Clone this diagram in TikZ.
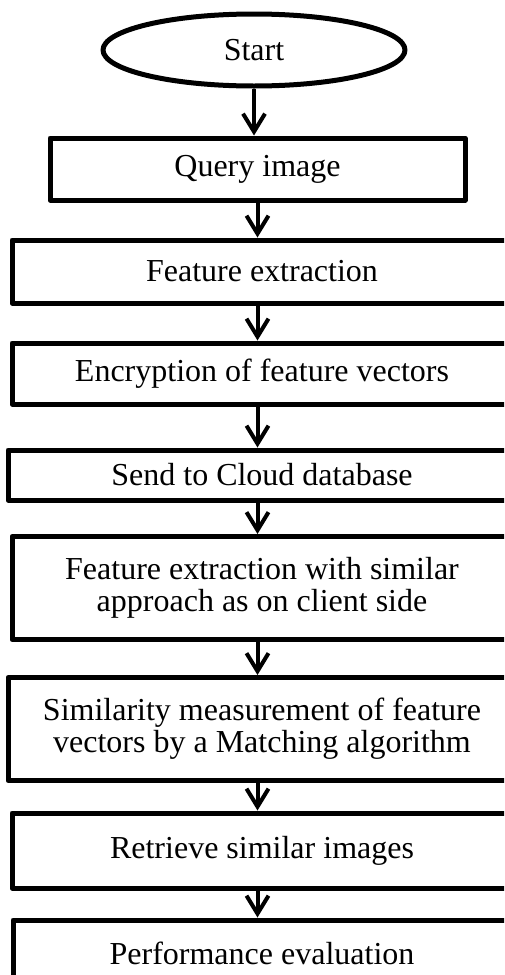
\documentclass[tikz,border=0pt]{standalone}
\usepackage{fontspec}
\setmainfont{Liberation Serif}
\usetikzlibrary{shapes.geometric,arrows.meta}

\begin{document}
\begin{tikzpicture}[x=0.5pt, y=-0.5pt,
        box/.style = {draw, line width=2.5pt, line join=round, inner sep=0pt,
                      align=center, font=\fontsize{16}{16}\selectfont},
        arrow/.style = {line width=2pt, -{Straight Barb[length=9pt, width=11pt]}}]
                \useasboundingbox (0,0) rectangle (504,975);
                \clip (0,0) rectangle (504,975);

                \node[box, ellipse, minimum width=151pt, minimum height=36pt]
                    (start) at (254,50) {Start};
                \node[box, minimum width=207.5pt, minimum height=31pt]
                    (query) at (257.5,169) {Query image};
                \node[box, minimum width=250pt, minimum height=31.5pt]
                    (featext) at (262,271.5) {Feature extraction};
                \node[box, minimum width=250pt, minimum height=30.5pt]
                    (encrypt) at (262,373.5) {Encryption of feature vectors};
                \node[box, minimum width=254pt, minimum height=25pt]
                    (send) at (262,475) {Send to Cloud database};
                \node[box, minimum width=250pt, minimum height=51.5pt]
                    (cloudfe) at (262,588) {Feature extraction with similar\\approach as on client side};
                \node[box, minimum width=254pt, minimum height=51.5pt]
                    (simmatch) at (262,729) {Similarity measurement of feature\\vectors by a Matching algorithm};
                \node[box, minimum width=250pt, minimum height=37.5pt]
                    (retrieve) at (262,850.5) {Retrieve similar images};
                \node[box, minimum width=249pt, minimum height=33pt]
                    (perf) at (262,953) {Performance evaluation};

                \draw[arrow] (start.south) -- (start.south |- query.north);
                \draw[arrow] (query.south) -- (query.south |- featext.north);
                \draw[arrow] (featext.south -| query) -- (encrypt.north -| query);
                \draw[arrow] (encrypt.south -| query) -- (send.north -| query);
                \draw[arrow] (send.south -| query) -- (cloudfe.north -| query);
                \draw[arrow] (cloudfe.south -| query) -- (simmatch.north -| query);
                \draw[arrow] (simmatch.south -| query) -- (retrieve.north -| query);
                \draw[arrow] (retrieve.south -| query) -- (perf.north -| query);
            \end{tikzpicture}
\end{document}
